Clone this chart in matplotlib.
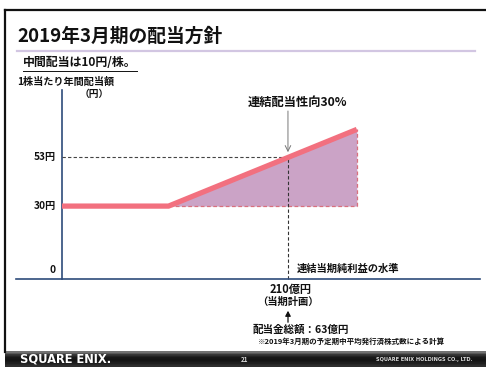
import matplotlib
matplotlib.use("Agg")
import matplotlib.pyplot as plt
import numpy as np
from matplotlib.lines import Line2D
from matplotlib.patches import FancyArrowPatch

plt.rcParams['font.family'] = ['Noto Sans CJK JP', 'DejaVu Sans']

# ---- data ----
profit = [0, 99, 274]          # 連結当期純利益 (億円, schematic)
dividend = [30, 30, 66]        # 1株当たり年間配当額 (円)
plan_profit = 210              # 当期計画
plan_dividend = 53
tick_values = [0, 30, 53]
tick_labels = ['0', '30円', '53円']

W, H = 486, 367
fig = plt.figure(figsize=(W / 100, H / 100), dpi=100)

def fx(px):
    return px / W

def fy(py):
    return 1 - py / H

# frame lines
fig.add_artist(Line2D([fx(5), fx(486)], [fy(10), fy(10)], color='#111111', lw=1.6, transform=fig.transFigure))
fig.add_artist(Line2D([fx(5), fx(5)], [fy(10), fy(352)], color='#111111', lw=1.6, transform=fig.transFigure))
fig.add_artist(Line2D([fx(17), fx(475)], [fy(51), fy(51)], color='#D2C6E2', lw=1.6, transform=fig.transFigure))

# footer bar
fax = fig.add_axes([fx(5), 0, 1 - fx(5), fy(351)])
grad = np.array([[0.45], [0.20], [0.10], [0.08], [0.12], [0.18]])
fax.imshow(grad, aspect='auto', cmap='gray', vmin=0, vmax=1, extent=[0, 1, 0, 1])
fax.set_axis_off()
fig.text(fx(20), fy(359.5), 'SQUARE ENIX.', color='white', fontsize=8.3, fontweight='bold',
         family='DejaVu Sans', va='center', ha='left')
fig.text(fx(245), fy(360), '21', color='#dddddd', fontsize=4.5, fontweight='bold', va='center', ha='center')
fig.text(fx(472), fy(360), 'SQUARE ENIX HOLDINGS CO., LTD.', color='#dddddd', fontsize=3.6,
         fontweight='bold', va='center', ha='right', family='DejaVu Sans')

# titles
fig.text(fx(17), fy(36), '2019年3月期の配当方針', fontsize=13.5, fontweight='bold', va='center', ha='left', color='#111111')
fig.text(fx(23), fy(63), '中間配当は10円/株。', fontsize=8.6, fontweight='bold', va='center', ha='left', color='#111111')
fig.add_artist(Line2D([fx(23), fx(137)], [fy(70.5), fy(70.5)], color='#111111', lw=0.7, transform=fig.transFigure))
fig.text(fx(17), fy(81.5), '1株当たり年間配当額', fontsize=7.3, fontweight='bold', va='center', ha='left', color='#111111')
fig.text(fx(94), fy(93.5), '（円）', fontsize=7.0, fontweight='bold', va='center', ha='center', color='#111111')

# chart axes: origin pixel (62, 270 for y=0), 1.076 px per 億円, 2.13 px per 円
px_x, px_y = 1.076, 2.13
ax = fig.add_axes([fx(16), fy(279), fx(480) - fx(16), fy(90) - fy(279)])
ax.set_xlim(-(62 - 16) / px_x, (480 - 62) / px_x)
ax.set_ylim(-(279 - 270) / px_y, (270 - 90) / px_y)
for s in ['top', 'right', 'left']:
    ax.spines[s].set_visible(False)
ax.spines['bottom'].set_color('#2E4B7A')
ax.spines['bottom'].set_linewidth(1.2)
ax.set_xticks([])
ax.set_yticks([])
ax.patch.set_alpha(0)
ylo, yhi = ax.get_ylim()
ax.plot([0, 0], [ylo, yhi], color='#2E4B7A', lw=1.2, clip_on=False)

for v, lab in zip(tick_values, tick_labels):
    ax.text(-5.6, v, lab, fontsize=7.3, fontweight='bold', ha='right', va='center', color='#111111')

# fill area
ax.fill_between(profit[1:], [dividend[1]] * 2, dividend[1:], color='#CBA3C6', lw=0, zorder=1)
ax.plot([profit[1], profit[2]], [dividend[1], dividend[1]], ls=(0, (3, 2)), color='#D8707E', lw=0.9, zorder=2)
ax.plot([profit[2], profit[2]], [dividend[1], dividend[2]], ls=(0, (3, 2)), color='#D8707E', lw=0.9, zorder=2)

# dashed guide lines
ax.plot([0, plan_profit], [plan_dividend, plan_dividend], ls=(0, (3, 2)), color='#444444', lw=0.8, zorder=2)
ax.plot([plan_profit, plan_profit], [ylo, plan_dividend], ls=(0, (3, 2)), color='#333333', lw=0.8, zorder=2,
        clip_on=False)

# main pink line
ax.plot(profit, dividend, color='#F2707F', lw=3.8, solid_capstyle='butt', solid_joinstyle='miter', zorder=3)

# annotation 30%
ax.annotate('', xy=(plan_profit, plan_dividend + 2.3), xytext=(plan_profit, (270 - 111) / px_y),
            arrowprops=dict(arrowstyle='->', color='#777777', lw=0.7, shrinkA=0, shrinkB=0))
ax.text((297 - 62) / px_x, (270 - 102) / px_y, '連結配当性向30%', fontsize=8.8, fontweight='bold',
        ha='center', va='center', color='#111111')
ax.text((297 - 62) / px_x, (270 - 269) / px_y, '連結当期純利益の水準', fontsize=7.4, fontweight='bold',
        ha='left', va='center', color='#111111')

# below-axis labels
fig.text(fx(291), fy(289), '210億円', fontsize=8.0, fontweight='bold', ha='center', va='center', color='#111111')
fig.text(fx(288), fy(302), '（当期計画）', fontsize=7.4, fontweight='bold', ha='center', va='center', color='#111111')
fig.add_artist(FancyArrowPatch((fx(288), fy(325)), (fx(288), fy(308)),
               transform=fig.transFigure, arrowstyle='-|>,head_length=3,head_width=1.6',
               color='#111111', lw=0.9))
fig.text(fx(301), fy(330), '配当金総額：63億円', fontsize=7.6, fontweight='bold', ha='center', va='center', color='#111111')
fig.text(fx(352), fy(341), '※2019年3月期の予定期中平均発行済株式数による計算', fontsize=5.4, fontweight='bold',
         ha='center', va='center', color='#111111')

fig.savefig('out.png', dpi=100)
